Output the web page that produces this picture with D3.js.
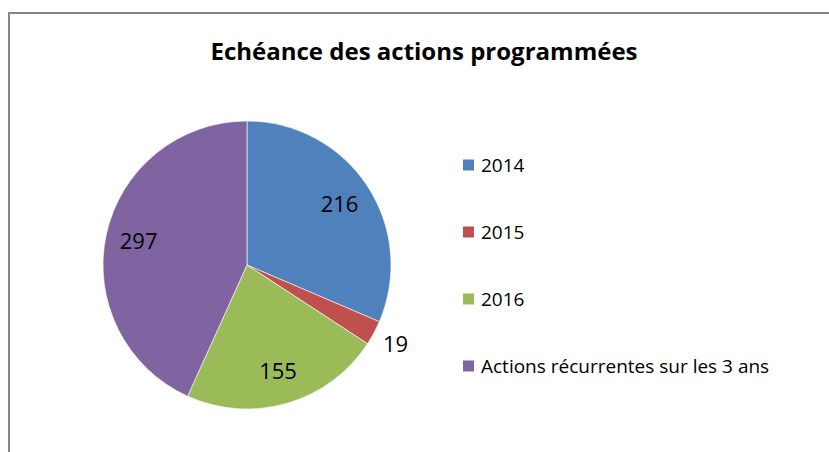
<!DOCTYPE html>
<html>
<head>
<meta charset="utf-8">
<script src="https://cdn.jsdelivr.net/npm/d3@7"></script>
<style>
  body { margin: 0; background: #fff; }
  text { font-family: "Open Sans", "Noto Sans", sans-serif; }
</style>
</head>
<body>
<svg id="chart"></svg>
<script>
// Données du graphique
const categories = ["2014", "2015", "2016", "Actions récurrentes sur les 3 ans"];
const values = [216, 19, 155, 297];
const colors = ["#4F81BD", "#C0504D", "#9BBB59", "#8064A2"];
const title = "Echéance des actions programmées";

const width = 829, height = 452;
const svg = d3.select("#chart")
    .attr("width", width)
    .attr("height", height);

// Cadre (bord gauche et haut visibles)
svg.append("path")
    .attr("d", `M9,${height} L9,13 L${width},13`)
    .attr("fill", "none")
    .attr("stroke", "#868686")
    .attr("stroke-width", 2);

// Titre
svg.append("text")
    .attr("x", 424)
    .attr("y", 60)
    .attr("text-anchor", "middle")
    .style("font-size", "24px")
    .style("font-weight", "bold")
    .attr("fill", "#000")
    .text(title);

// Camembert
const radius = 144;
const g = svg.append("g").attr("transform", "translate(247,265)");

const data = categories.map((c, i) => ({ category: c, value: values[i], color: colors[i] }));
const pie = d3.pie().sort(null).value(d => d.value);
const arcs = pie(data);

const arc = d3.arc().innerRadius(0).outerRadius(radius);
const labelArc = d3.arc().innerRadius(radius * 0.77).outerRadius(radius * 0.77);
const outerArc = d3.arc().innerRadius(radius * 1.17).outerRadius(radius * 1.17);

g.selectAll("path.slice")
    .data(arcs)
    .enter().append("path")
    .attr("class", "slice")
    .attr("d", arc)
    .attr("fill", d => d.data.color)
    .attr("stroke", "#fff")
    .attr("stroke-width", 0.6);

// Étiquettes de valeurs (la petite tranche est étiquetée à l'extérieur)
g.selectAll("text.label")
    .data(arcs)
    .enter().append("text")
    .attr("class", "label")
    .attr("transform", d => {
        const small = (d.endAngle - d.startAngle) < 0.3;
        const [x, y] = small ? outerArc.centroid(d) : labelArc.centroid(d);
        return `translate(${x},${y})`;
    })
    .attr("text-anchor", "middle")
    .attr("dy", "0.35em")
    .style("font-size", "22px")
    .attr("fill", "#000")
    .text(d => d.data.value);

// Légende
const legendY = d3.scalePoint()
    .domain(categories)
    .range([165, 366]);

const legend = svg.append("g")
    .selectAll("g")
    .data(data)
    .enter().append("g")
    .attr("transform", d => `translate(463,${legendY(d.category)})`);

legend.append("rect")
    .attr("x", 0)
    .attr("y", -5.5)
    .attr("width", 11)
    .attr("height", 11)
    .attr("fill", d => d.color);

legend.append("text")
    .attr("x", 18)
    .attr("dy", "0.35em")
    .style("font-size", "19px")
    .attr("fill", "#000")
    .text(d => d.category);
</script>
</body>
</html>
